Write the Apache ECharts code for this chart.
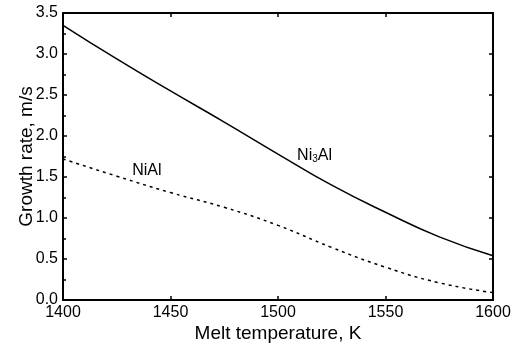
<!DOCTYPE html>
<html>
<head>
<meta charset="utf-8">
<script src="https://cdn.jsdelivr.net/npm/echarts@6/dist/echarts.min.js"></script>
<style>
  html, body { margin: 0; padding: 0; background: #fff; }
  #main { width: 524px; height: 346px; }
</style>
</head>
<body>
<div id="main"></div>
<script>
// melt temperature, K
var temps = [1400, 1425, 1450, 1475, 1500, 1525, 1550, 1575, 1600]
// growth rate, m/s
var ni3al = [3.35, 2.94, 2.55, 2.17, 1.78, 1.40, 1.07, 0.77, 0.54]
var nial = [1.72, 1.51, 1.31, 1.13, 0.91, 0.64, 0.40, 0.21, 0.09]
var xTicks = [1400, 1450, 1500, 1550, 1600]
var yTicks = [0.0, 0.5, 1.0, 1.5, 2.0, 2.5, 3.0, 3.5]

var font = 'Liberation Sans, Arial, sans-serif'

var toPairs = function (xs, ys) {
  return xs.map(function (x, i) { return [x, ys[i]] })
}

var myChart = echarts.init(document.getElementById('main'))

var axisBase = {
  axisLine: { show: true, onZero: false, lineStyle: { color: '#000', width: 2 } },
  axisTick: { show: true, inside: true, length: 4, lineStyle: { color: '#000', width: 1.5 } },
  splitLine: { show: false }
}

option = {
  animation: false,
  backgroundColor: '#fff',
  grid: { left: 63, right: 31, top: 13, bottom: 46, outerBoundsMode: 'none', containLabel: false },
  xAxis: [
    Object.assign({}, axisBase, {
      type: 'value', min: xTicks[0], max: xTicks[xTicks.length - 1], interval: 50,
      name: 'Melt temperature, K', nameLocation: 'middle', nameGap: 24, nameMoveOverlap: false,
      nameTextStyle: { fontFamily: font, fontSize: 19, color: '#000' },
      axisLabel: {
        fontFamily: font, fontSize: 16, color: '#000', margin: 5,
        formatter: function (v) { return String(v) }
      }
    }),
    Object.assign({}, axisBase, {
      type: 'value', position: 'top', min: xTicks[0], max: xTicks[xTicks.length - 1], interval: 50,
      axisLabel: { show: false }
    })
  ],
  yAxis: [
    Object.assign({}, axisBase, {
      type: 'value', min: 0, max: 3.5, interval: 0.5,
      name: 'Growth rate, m/s', nameLocation: 'middle', nameGap: 27, nameMoveOverlap: false,
      nameTextStyle: { fontFamily: font, fontSize: 19, color: '#000' },
      minorTick: { show: true, splitNumber: 2, length: 3, lineStyle: { color: '#000', width: 1.5 } },
      axisLabel: {
        fontFamily: font, fontSize: 16, color: '#000', margin: 5,
        formatter: function (v) { return v.toFixed(1) }
      }
    }),
    Object.assign({}, axisBase, {
      type: 'value', position: 'right', min: 0, max: 3.5, interval: 0.5,
      axisLabel: { show: false }
    })
  ],
  series: [
    {
      name: 'Ni3Al', type: 'line', smooth: true, symbol: 'none',
      data: toPairs(temps, ni3al),
      lineStyle: { color: '#000', width: 1.5 },
      markPoint: {
        symbol: 'circle', symbolSize: 0,
        data: [{ coord: [1517, 1.76] }],
        label: {
          show: true, position: 'inside',
          formatter: 'Ni{s|3}Al',
          fontFamily: font, fontSize: 16, color: '#000',
          rich: { s: { fontFamily: font, fontSize: 10, color: '#000', padding: [8, 0, 0, 0] } }
        }
      }
    },
    {
      name: 'NiAl', type: 'line', smooth: true, symbol: 'none',
      data: toPairs(temps, nial),
      lineStyle: { color: '#000', width: 1.5, type: [3, 4] },
      markPoint: {
        symbol: 'circle', symbolSize: 0,
        data: [{ coord: [1439, 1.58] }],
        label: {
          show: true, position: 'inside', formatter: 'NiAl',
          fontFamily: font, fontSize: 16, color: '#000'
        }
      }
    }
  ]
}

myChart.setOption(option)
</script>
</body>
</html>
